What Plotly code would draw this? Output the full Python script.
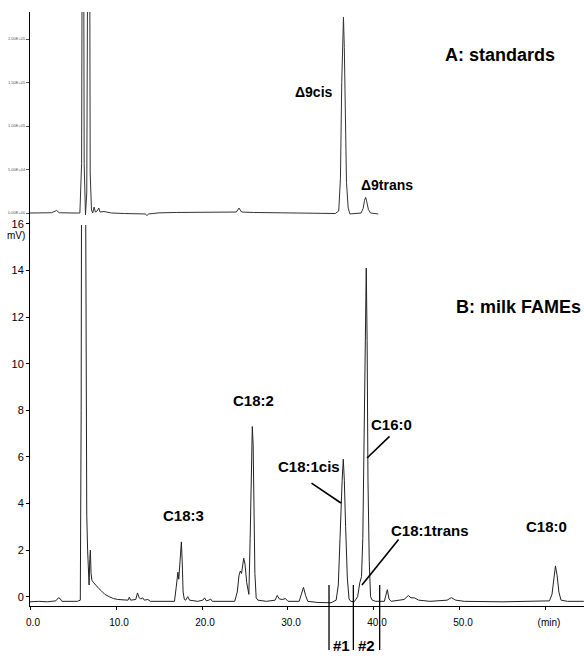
import plotly.graph_objects as go

# ---------------- data ----------------
# B: milk FAMEs chromatogram (time in min, signal in mV)
milk_time = [0.0, 1.0, 2.0, 3.0, 3.3, 3.5, 3.7, 4.5, 5.5, 5.85, 5.95, 6.05, 6.15, 6.35, 6.5, 6.6, 6.7, 6.8,
             6.87, 6.95, 7.02, 7.1, 7.2, 7.4, 7.7, 8.0, 8.3, 8.7, 9.2, 9.7, 10.2, 11.0, 11.4, 11.55, 11.7,
             12.3, 12.5, 12.7, 12.9, 13.1, 13.3, 13.7, 14.0, 15.0, 16.0, 16.8, 17.0, 17.1, 17.2, 17.3, 17.45,
             17.6, 17.7, 17.8, 17.95, 18.1, 18.35, 18.55, 19.5, 20.1, 20.3, 20.5, 20.8, 21.0, 21.2, 22.5,
             23.8, 24.1, 24.3, 24.45, 24.6, 24.85, 25.0, 25.2, 25.45, 25.6, 25.75, 25.85, 25.95, 26.05,
             26.15, 26.3, 26.5, 27.5, 28.5, 28.75, 29.0, 29.4, 29.7, 30.0, 31.3, 31.55, 31.8, 32.05, 32.3,
             33.5, 35.0, 35.6, 35.85, 36.05, 36.2, 36.3, 36.43, 36.55, 36.7, 36.9, 37.1, 37.3, 37.7, 38.1,
             38.35, 38.55, 38.7, 38.85, 39.0, 39.1, 39.2, 39.3, 39.45, 39.6, 39.8, 40.2, 41.2, 41.4, 41.55,
             41.75, 42.0, 43.5, 44.0, 44.3, 44.7, 45.2, 46.5, 48.5, 49.0, 49.5, 50.5, 55.0, 58.0, 60.4,
             60.7, 60.9, 61.1, 61.3, 61.5, 61.75, 62.5, 64.4]
milk_signal = [-0.22, -0.2, -0.22, -0.18, -0.05, -0.08, -0.2, -0.21, -0.2, -0.15, 8.0, 30.0, 40.0, 30.0, 7.3, 3.5, 2.0, 0.8,
               0.5, 1.6, 2.0, 1.0, 0.7, 0.6, 0.45, 0.35, 0.25, 0.1, 0.0, -0.08, -0.12, -0.15, -0.15, -0.02, -0.15,
               -0.12, 0.16, -0.05, -0.1, -0.05, -0.15, -0.12, -0.2, -0.2, -0.2, -0.2, 0.4, 0.9, 1.05, 0.75, 1.6,
               2.35, 1.5, 0.2, -0.12, -0.15, 0.0, -0.15, -0.2, -0.15, -0.05, -0.18, -0.15, -0.1, -0.2, -0.2,
               -0.2, 0.2, 0.9, 1.1, 1.0, 1.65, 1.4, 0.6, 0.1, 2.5, 6.0, 7.3, 6.5, 4.0,
               1.0, -0.05, -0.15, -0.2, -0.15, 0.05, -0.1, -0.12, -0.08, -0.2, -0.2, 0.1, 0.4, 0.05, -0.2,
               -0.25, -0.26, -0.15, 0.5, 2.5, 4.6, 5.0, 5.9, 5.0, 3.0, 0.8, -0.1, -0.2, -0.22, 0.0,
               0.6, 0.86, 2.5, 7.5, 12.5, 14.1, 11.0, 5.0, 1.5, 0.0, -0.15, -0.2, -0.2, 0.1, 0.3,
               -0.1, -0.2, -0.12, 0.05, -0.05, -0.05, -0.15, -0.2, -0.15, -0.04, -0.15, -0.2, -0.22, -0.2, -0.18,
               0.1, 0.8, 1.32, 0.9, 0.2, -0.15, -0.2, -0.2]

# A: standards chromatogram (time in min, detector counts)
std_time = [0.0, 2.5, 3.1, 3.4, 5.0, 5.8, 6.0, 6.16, 6.3, 6.45, 6.6, 6.86, 7.0, 7.15, 7.3, 7.45, 7.6, 7.8,
            8.0, 8.15, 8.6, 9.5, 11.0, 13.4, 13.6, 13.8, 14.3, 15.0, 17.0, 19.0, 22.0, 24.0, 24.3, 24.6,
            26.0, 30.0, 33.0, 35.5, 35.9, 36.1, 36.25, 36.35, 36.45, 36.55, 36.65, 36.8, 37.0, 37.2, 38.5,
            38.75, 38.9, 39.03, 39.15, 39.35, 39.6, 40.0, 40.5]
std_signal = [0, 300, 2900, 300, 0, 0, 57000, 700000, 57000, -2300, 23000, 700000, 46000, 3400, 0, 6900, 1100, 2300,
              5700, 1100, 1700, 0, -600, -1100, -2900, -1100, -600, 200, 600, 900, 600, 1100, 5700, 1100,
              600, 200, 0, -600, 2300, 40000, 150000, 205000, 225000, 190000, 120000, 35000, 5700, -1100, 0,
              5500, 14500, 18000, 13500, 4000, 0, -600, -1100]

milk_ticks = [0, 2, 4, 6, 8, 10, 12, 14, 16]
std_ticks = [0, 50000, 100000, 150000, 200000]
std_tick_text = ["0.00E+00", "5.00E+04", "1.00E+05", "1.50E+05", "2.00E+05"]
time_ticks = [0, 10, 20, 30, 40, 50, 60]
time_tick_text = ["0.0", "10.0", "20.0", "30.0", "40.0", "50.0", "(min)"]
cut_times = [34.77, 37.6, 40.66]

FONT = "Liberation Sans, Arial, sans-serif"
LINE = "#222222"

fig = go.Figure()
fig.add_trace(go.Scatter(x=std_time, y=std_signal, mode="lines", xaxis="x", yaxis="y2",
                         line=dict(color="#333333", width=1), showlegend=False, hoverinfo="skip"))
fig.add_trace(go.Scatter(x=milk_time, y=milk_signal, mode="lines", xaxis="x", yaxis="y",
                         line=dict(color=LINE, width=1), showlegend=False, hoverinfo="skip"))

# geometry: plot area 30..584 px horizontally, 12..606 px vertically
H_PLOT = 594
y2_bottom = (606 - 225) / H_PLOT

fig.update_layout(
    width=584, height=663,
    margin=dict(l=30, r=0, t=12, b=57),
    paper_bgcolor="white", plot_bgcolor="white",
    font=dict(family=FONT, color="black"),
    xaxis=dict(range=[0.0, 64.42], showgrid=False, zeroline=False, showline=True, linecolor="black",
               linewidth=1, ticks="outside", ticklen=3, tickcolor="black", tickvals=time_ticks,
               ticktext=time_tick_text, tickfont=dict(size=10, family=FONT), anchor="y",
               ticklabelstandoff=4, ticklabelshift=3),
    yaxis=dict(range=[-0.40, 25.09], showgrid=False, zeroline=False, showline=True, linecolor="black",
               linewidth=1, ticks="outside", ticklen=3, tickcolor="black", tickvals=milk_ticks,
               tickfont=dict(size=11, family=FONT), domain=[0, 1], anchor="x"),
    yaxis2=dict(range=[-13793, 231034], showgrid=False, zeroline=False, showline=False,
                ticks="outside", ticklen=3, tickcolor="#555555", tickvals=std_ticks, ticktext=std_tick_text,
                tickfont=dict(size=4, family=FONT, color="#555555"), domain=[y2_bottom, 1], anchor="x"),
)

ann = []
def label(text, x, y, yref="y", size=15, xref="x", xanchor="center", xshift=0):
    ann.append(dict(text="<b>%s</b>" % text, x=x, y=y, xref=xref, yref=yref, showarrow=False,
                    font=dict(size=size, family=FONT, color="black"), xanchor=xanchor, yanchor="middle",
                    xshift=xshift))

label("A: standards", 54.65, 181600, yref="y2", size=18)
label("Δ9cis", 33.0, 139080, yref="y2", size=14)
label("Δ9trans", 41.5, 32184, yref="y2", size=14)
label("B: milk FAMEs", 1.0, 12.45, xref="paper", size=18, xanchor="right", xshift=-1)
label("C18:2", 25.99, 8.44)
label("C18:3", 17.85, 3.5)
label("C18:1cis", 32.4, 5.57)
label("C16:0", 42.03, 7.37)
label("C18:1trans", 46.5, 2.86)
label("C18:0", 60.1, 3.03)
label("#1", 36.2, -0.0657, yref="paper", size=15)
label("#2", 39.1, -0.0657, yref="paper", size=15)

def pointer(x0, y0, x1, y1):
    ann.append(dict(text="", x=x1, y=y1, ax=x0, ay=y0, xref="x", yref="y", axref="x", ayref="y",
                    showarrow=True, arrowhead=0, arrowwidth=1.6, arrowcolor="black", standoff=0,
                    startstandoff=0))

pointer(32.56, 4.92, 36.16, 4.02)
pointer(41.98, 6.94, 39.19, 5.95)
pointer(43.0, 2.52, 38.6, 0.5)

ann.append(dict(text="mV)", x=-0.005, y=(606 - 236) / H_PLOT, xref="paper", yref="paper", showarrow=False,
                xanchor="right", yanchor="middle", font=dict(size=10, family=FONT, color="black")))
fig.update_layout(annotations=ann)

shapes = []
for t in cut_times:
    shapes.append(dict(type="line", xref="x", yref="paper", x0=t, x1=t,
                       y0=(606 - 585) / H_PLOT, y1=(606 - 650) / H_PLOT,
                       line=dict(color="black", width=1.3)))
fig.update_layout(shapes=shapes)

fig.write_html("out.html", config={"displayModeBar": False},
               post_script="document.body.style.margin='0';document.body.style.padding='0';"
                           "document.body.style.overflow='hidden';")
